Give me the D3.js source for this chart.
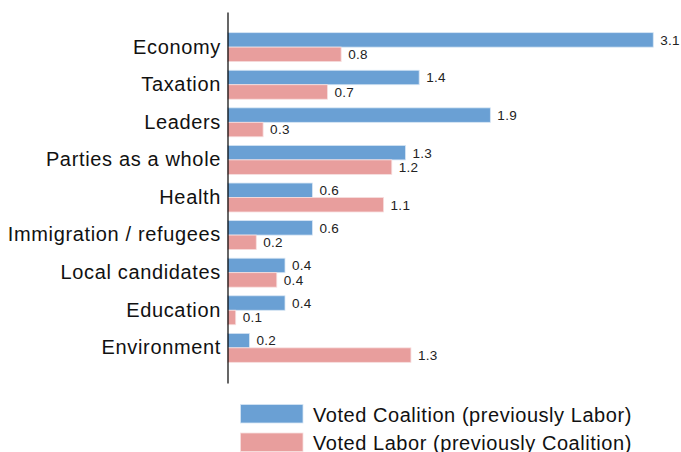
<!DOCTYPE html>
<html>
<head>
<meta charset="utf-8">
<script src="https://cdn.jsdelivr.net/npm/d3@7"></script>
<style>
html,body{margin:0;padding:0;background:#fff;}
svg{display:block;font-family:"Liberation Sans",Arial,Helvetica,sans-serif;}
</style>
</head>
<body>
<svg id="chart" width="681" height="452"></svg>
<script>
const categories = ["Economy","Taxation","Leaders","Parties as a whole","Health","Immigration / refugees","Local candidates","Education","Environment"];
const coalitionValues = [3.11, 1.4, 1.92, 1.3, 0.62, 0.62, 0.42, 0.42, 0.16];
const laborValues = [0.83, 0.73, 0.26, 1.2, 1.14, 0.21, 0.36, 0.06, 1.34];
const seriesNames = ["Voted Coalition (previously Labor)","Voted Labor (previously Coalition)"];
const seriesColors = ["#6aa0d4","#e89e9d"];
const seriesStroke = ["#d6e5f4","#f7dede"];

const svg = d3.select("#chart");
const x0 = 227.5;
const x = d3.scaleLinear().domain([0, 3.5]).range([x0, x0 + 3.5 * 136.9]);
const y = d3.scaleBand().domain(categories).range([12, 383]).paddingInner(0.23).paddingOuter(0.55);
const sub = d3.scaleBand().domain([0,1]).range([0, y.bandwidth()]);

const series = [coalitionValues, laborValues];
const fmt = d3.format(".1f");

series.forEach((vals, si) => {
  const g = svg.append("g");
  g.selectAll("rect").data(categories).join("rect")
    .attr("x", x(0))
    .attr("y", (c) => y(c) + sub(si))
    .attr("width", (c, i) => x(vals[i]) - x(0))
    .attr("height", sub.bandwidth())
    .attr("fill", seriesColors[si])
    .attr("stroke", seriesStroke[si])
    .attr("stroke-width", 0.8);
  g.selectAll("text").data(categories).join("text")
    .attr("x", (c, i) => x(vals[i]) + 7)
    .attr("y", (c) => y(c) + sub(si) + sub.bandwidth() / 2)
    .attr("dy", "0.36em")
    .attr("font-size", 13.5)
    .attr("letter-spacing", 0.3)
    .attr("fill", "#222")
    .text((c, i) => fmt(vals[i]));
});

const axis = svg.append("g")
  .attr("transform", `translate(${x0},0)`)
  .call(d3.axisLeft(y).tickSize(0).tickSizeOuter(0).tickPadding(6.5));
axis.select(".domain").attr("stroke", "#000").attr("stroke-width", 1.2);
axis.selectAll(".tick text")
  .attr("font-size", 20)
  .attr("letter-spacing", 0.65)
  .attr("fill", "#111")
  .attr("font-family", "'Liberation Sans',Arial,Helvetica,sans-serif");

const legend = svg.append("g");
seriesNames.forEach((name, i) => {
  const ly = 404.5 + i * 28.5;
  legend.append("rect")
    .attr("x", 240.5).attr("y", ly)
    .attr("width", 62.5).attr("height", 18.5)
    .attr("fill", seriesColors[i])
    .attr("stroke", seriesStroke[i]).attr("stroke-width", 0.8);
  legend.append("text")
    .attr("x", 313).attr("y", ly + 17)
    .attr("font-size", 20)
    .attr("letter-spacing", 0.55)
    .attr("fill", "#111")
    .text(name);
});
</script>
</body>
</html>
